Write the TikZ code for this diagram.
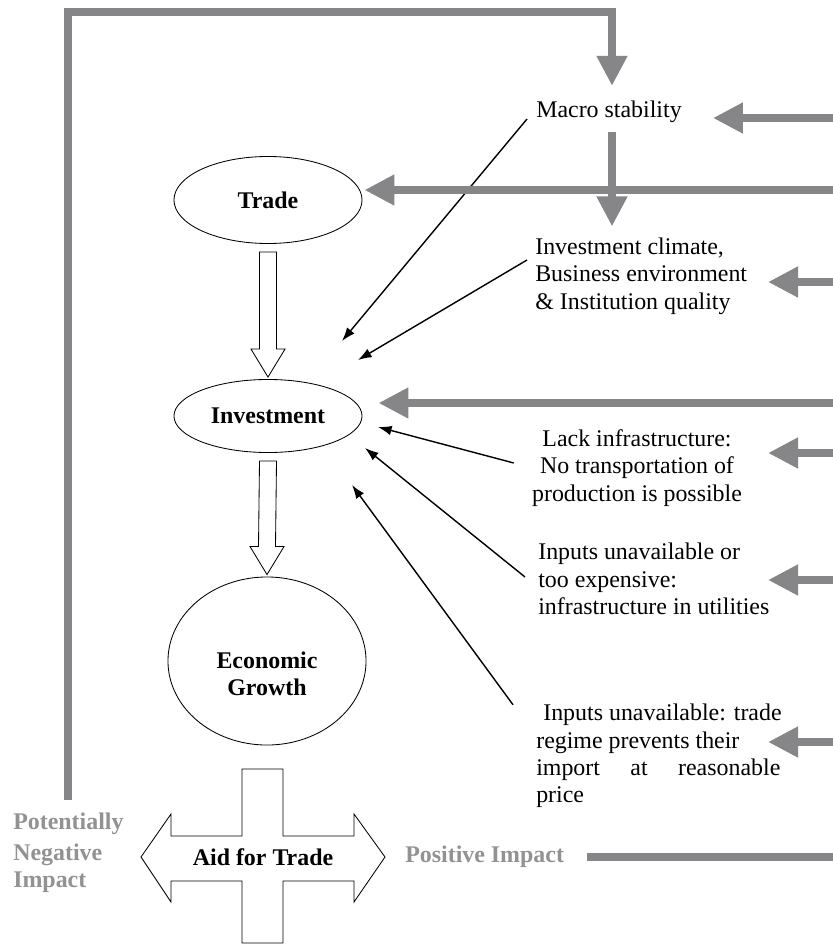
\documentclass[tikz,border=0pt]{standalone}
\usepackage{fontspec}
\setmainfont{Liberation Serif}
\usetikzlibrary{arrows.meta,shapes.geometric,calc}
\definecolor{bargray}{RGB}{134,134,137}
\definecolor{labelgray}{RGB}{146,146,148}

\begin{document}
\begin{tikzpicture}[x=0.025cm, y=-0.025cm,
  every node/.style={inner sep=0pt, font=\fontsize{17}{19.5}\selectfont},
  bubble/.style={draw, ellipse, line width=0.6pt, font=\fontsize{17}{19.5}\selectfont\bfseries},
  bar/.style={draw=bargray, line width=0.2cm},
  bigarrow/.style={bar, -{Triangle[length=0.75cm, width=0.725cm]}},
  pointer/.style={line width=1pt, -{Latex[length=0.34cm, width=0.24cm]}},
  hollow/.style={draw, line width=0.6pt, fill=white},
  impact/.style={text=labelgray, font=\fontsize{17}{19.5}\selectfont\bfseries, align=left}]

  \fill[white] (0,0) rectangle (833,945);
  \useasboundingbox (0,0) rectangle (833,945);

  % central chain
  \node[bubble, minimum width=4.7cm, minimum height=2.175cm] (trade) at (268,200) {Trade\hspace{24pt}};
  \node[bubble, minimum width=4.7cm, minimum height=1.825cm] (invest) at (268,416) {Investment};
  \node[bubble, minimum width=4.95cm, minimum height=4.2cm] (growth) at (267,661) {};
  \node[font=\fontsize{17}{19.5}\selectfont\bfseries, align=center] (growthtext)
    at ($(growth.center)+(0,13)$) {Economic\\Growth};

  \foreach \a/\b in {trade/invest, invest/growth}
    \draw[hollow] ($(\a.south)+(-8.5,8)$) -- ($(\b.north)+(-8.5,-30)$) -- ($(\b.north)+(-17,-30)$)
      -- ($(\b.north)+(0,-2)$) -- ($(\b.north)+(17,-30)$) -- ($(\b.north)+(8.5,-30)$)
      -- ($(\a.south)+(8.5,8)$) -- cycle;

  % constraints
  \node[anchor=west] (macro) at (536,112) {Macro stability};
  \node[anchor=west, align=left] (climate) at (535,276) {Investment climate,\\Business environment\\\& Institution quality};
  \node[align=center] (infra) at (637,468) {Lack infrastructure:\\No transportation of\\production is possible};
  \node[anchor=west, align=left] (inputs) at (538,579) {Inputs unavailable or\\too expensive:\\infrastructure in utilities};
  \node[anchor=west, align=left] (regime) at (536,756)
    {\hspace*{5pt}Inputs unavailable: trade\\regime prevents their\\\makebox[6.1cm][s]{import at reasonable}\\price};

  \coordinate (aimMacro) at (342,341);
  \coordinate (aimClimate) at (358,360);
  \coordinate (aimInfra) at (378,427);
  \coordinate (aimInputs) at (365,448);
  \coordinate (aimRegime) at (352,485);

  \draw[pointer] ($(macro.west)+(-9,7)$) -- (aimMacro);
  \draw[pointer] ($(climate.west)+(-8,-16)$) -- (aimClimate);
  \draw[pointer] ($(infra.west)+(-18,-5)$) -- (aimInfra);
  \draw[pointer] ($(inputs.west)+(-13,-2)$) -- (aimInputs);
  \draw[pointer] ($(regime.north west)+(-23,1)$) -- (aimRegime);

  % aid for trade
  \draw[line width=0.6pt, fill=white] (242,769) -- (283,769) -- (283,836) -- (354,836) -- (354,814)
    -- (385,857) -- (354,902) -- (354,881) -- (283,881) -- (283,943) -- (242,943) -- (242,881)
    -- (171,881) -- (171,902) -- (141,857) -- (171,814) -- (171,836) -- (242,836) -- cycle;
  \node[font=\fontsize{17}{19.5}\selectfont\bfseries] (aid) at (263,857) {Aid for Trade};
  \node[impact, anchor=west] (negative) at (13,853) {Potentially\\[2pt]Negative\\Impact};
  \node[impact, anchor=west] (positive) at (405,857) {Positive Impact};

  % gray feedback lines
  \foreach \n/\y in {rMacro/118, rTrade/190, rClimate/282, rInvest/403, rInfra/453,
    rInputs/580, rRegime/742, rPositive/857}
    \coordinate (\n) at (837,\y);
  \coordinate (tipcol) at (768,0);
  \coordinate (mx) at (612,0);
  \coordinate (loopstart) at (68,800);

  \draw[bar] ($(positive.east)+(23,0)$) -- (rPositive) -- (rMacro);
  \draw[bigarrow] (loopstart) -- (68,12) -| ($(macro.north -| mx)+(0,-15)$);
  \draw[bigarrow] ($(macro.south -| mx)+(0,9)$) -- ($(climate.north -| mx)+(0,-11)$);
  \draw[bigarrow] (rMacro) -- ($(rMacro -| macro.east)+(31,0)$);
  \draw[bigarrow] (rTrade) -- ($(rTrade -| trade.east)+(2,0)$);
  \draw[bigarrow] (rInvest) -- ($(rInvest -| invest.east)+(16,0)$);
  \foreach \n in {rClimate, rInfra, rInputs, rRegime}
    \draw[bigarrow] (\n) -- (\n -| tipcol);

\end{tikzpicture}
\end{document}
